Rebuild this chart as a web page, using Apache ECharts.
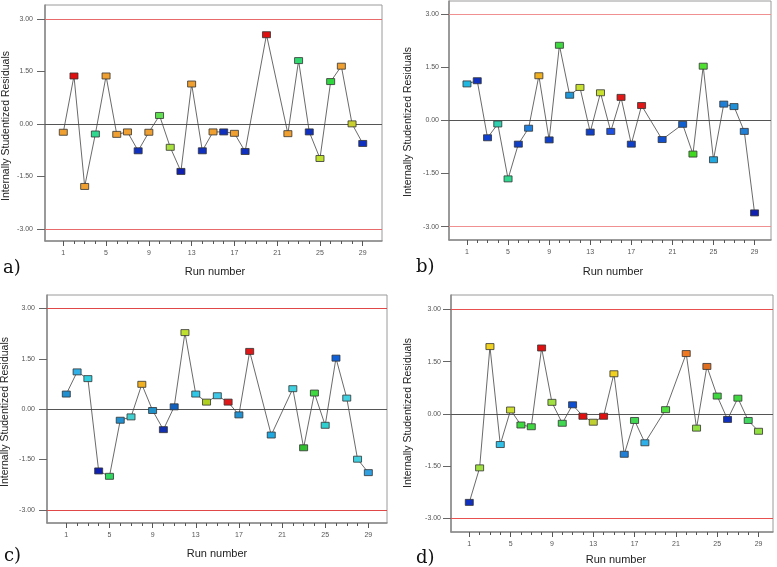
<!DOCTYPE html>
<html><head><meta charset="utf-8">
<script src="https://cdn.jsdelivr.net/npm/echarts/dist/echarts.min.js"></script>
<style>html,body{margin:0;padding:0;background:#fff}#c{width:777px;height:567px}</style>
</head><body><div id="c"></div>
<script>
// ---- data ----
const runs = [1,2,3,4,5,6,7,8,9,10,11,12,13,14,15,16,17,18,20,22,23,24,25,26,27,28,29];
const xTickLabels = [1,5,9,13,17,21,25,29];
const xMinorTicks = [1,2,3,4,5,6,7,8,9,10,11,12,13,14,15,16,17,18,19,20,21,22,23,24,25,26,27,28,29];
const yTickLabels = [-3, -1.5, 0, 1.5, 3];
const limitLines = [-3, 3];
const panelNames = ['a)', 'b)', 'c)', 'd)'];

const residA = [-0.24,1.37,-1.79,-0.29,1.37,-0.30,-0.23,-0.77,-0.24,0.24,-0.67,-1.36,1.14,-0.77,-0.23,-0.23,-0.27,-0.79,2.55,-0.28,1.81,-0.23,-0.99,1.21,1.65,0.00,-0.56];
const residB = [1.03,1.12,-0.49,-0.10,-1.65,-0.67,-0.22,1.26,-0.55,2.12,0.71,0.93,-0.33,0.78,-0.31,0.65,-0.67,0.42,-0.54,-0.11,-0.95,1.53,-1.11,0.46,0.39,-0.31,-2.61];
const residC = [0.45,1.11,0.91,-1.84,-2.00,-0.33,-0.23,0.74,-0.04,-0.61,0.07,2.28,0.45,0.21,0.40,0.21,-0.17,1.72,-0.77,0.61,-1.15,0.48,-0.48,1.52,0.33,-1.49,-1.89];
const residD = [-2.54,-1.55,1.93,-0.88,0.11,-0.32,-0.37,1.89,0.33,-0.27,0.26,-0.07,-0.24,-0.07,1.15,-1.16,-0.19,-0.83,0.12,1.73,-0.41,1.36,0.51,-0.16,0.45,-0.19,-0.50];

// ---- point colours (style) ----
const colA = ['#f0a030','#e01010','#f0a030','#30d890','#f0a030','#f0a030','#f0a030','#1030c0','#f0a030','#60e050','#a8e040','#1020b0','#f0a030','#1030c0','#f0a030','#1030c0','#f0a030','#1030c0','#e01010','#f0a030','#30d870','#1030c0','#c0e030','#30d840','#f0a030','#c8d030','#1030c0'];
const colB = ['#20b8e0','#1030c0','#1040d0','#30d0b0','#30d890','#1040c8','#2080e0','#f0b020','#1040c8','#40d840','#2098d8','#c8e030','#1040c8','#c8e030','#2050e0','#e01818','#1040c8','#e01818','#1050d0','#1060d0','#40d820','#50e030','#20a8e0','#2080d8','#2090d8','#2080d8','#1020b0'];
const colC = ['#2090d0','#30b0e8','#30d0e0','#1020b0','#30d860','#2090d0','#40d0d0','#f0b020','#2090c8','#1030b0','#1060c0','#c0e030','#30c8e8','#b0d020','#40c8e8','#e01818','#2090d0','#e01818','#20a8e0','#40d0e0','#30c030','#40d840','#30d0d0','#1060d8','#40d0e0','#40d0e0','#30a0e0'];
const colD = ['#1030c0','#a0e040','#f0d020','#30c0e8','#d0e030','#40d840','#40d840','#e01010','#a0e040','#40d850','#1050d0','#e01010','#c0d030','#e01010','#f0d020','#2080d8','#40d850','#30b0e8','#50e040','#f07820','#90e040','#e07020','#40d840','#1030c0','#40d840','#40d860','#90e040'];

// ---- layout ----
const panels = [
  {vals: residA, cols: colA, grid:{left:45, top:5, width:337, height:236}, x:[-0.71,30.8], y:[-3.35,3.40], lab:12, ref:'#e86a6a',
   runT:[215,272], yT:[6,126], pl:[3,268]},
  {vals: residB, cols: colB, grid:{left:449, top:1, width:322, height:239}, x:[-0.75,30.6], y:[-3.375,3.37], lab:10, ref:'#f09090',
   runT:[613,272], yT:[408,122], pl:[416,267]},
  {vals: residC, cols: colC, grid:{left:47, top:295, width:340, height:228}, x:[-0.79,30.73], y:[-3.39,3.40], lab:12, ref:'#e04848',
   runT:[217,554], yT:[5,412], pl:[4,556]},
  {vals: residD, cols: colD, grid:{left:451, top:295, width:322, height:237}, x:[-0.77,30.4], y:[-3.39,3.41], lab:10, ref:'#e85050',
   runT:[616,560], yT:[408,413], pl:[416,558]}
];

const grids = [], xAxes = [], yAxes = [], series = [], graphics = [];
const axisGray = '#8a8a8a';
panels.forEach((p, i) => {
  grids.push(Object.assign({show:true, borderColor:'#9a9a9a', borderWidth:1}, p.grid));
  xAxes.push({gridIndex:i, type:'value', min:p.x[0], max:p.x[1],
    axisLine:{show:true, onZero:false, lineStyle:{color:axisGray, width:1.5}},
    axisTick:{show:true, length:5, customValues:xTickLabels, lineStyle:{color:'#555'}},
    axisLabel:{show:true, customValues:xTickLabels, fontSize:7, color:'#555', margin:9, fontFamily:'Liberation Sans'},
    splitLine:{show:false}});
  yAxes.push({gridIndex:i, type:'value', min:p.y[0], max:p.y[1],
    axisLine:{show:true, onZero:false, lineStyle:{color:axisGray, width:1.5}},
    axisTick:{show:true, length:8, customValues:yTickLabels, lineStyle:{color:'#666'}},
    axisLabel:{show:true, customValues:yTickLabels, fontSize:7, color:'#555', margin:p.lab, fontFamily:'Liberation Sans',
      formatter: v => v.toFixed(2)},
    splitLine:{show:false}});
  const data = runs.map((r, k) => ({value:[r, p.vals[k]], itemStyle:{color:p.cols[k]}}));
  series.push({type:'line', xAxisIndex:i, yAxisIndex:i, data:data, symbol:'rect', symbolSize:[8,6],
    lineStyle:{color:'#444', width:0.8}, itemStyle:{borderColor:'#333', borderWidth:0.8},
    emphasis:{disabled:true}, z:5,
    markLine:{symbol:'none', label:{show:false}, lineStyle:{color:p.ref, width:1.2, type:'solid'},
      data:[{yAxis:limitLines[0]}, {yAxis:limitLines[1]}]}});
  series.push({type:'line', xAxisIndex:i, yAxisIndex:i, data:[], z:4,
    markLine:{symbol:'none', label:{show:false}, lineStyle:{color:'#555', width:1.2, type:'solid'},
      data:[{yAxis:0}]}});
  graphics.push({type:'text', x:p.runT[0], y:p.runT[1], style:{text:'Run number', font:'11px "Liberation Sans"', fill:'#222', textAlign:'center', textVerticalAlign:'middle'}});
  graphics.push({type:'text', x:p.yT[0], y:p.yT[1], rotation:Math.PI/2, style:{text:'Internally Studentized Residuals', font:'10.5px "Liberation Sans"', fill:'#222', textAlign:'center', textVerticalAlign:'middle'}});
  graphics.push({type:'text', x:p.pl[0], y:p.pl[1], style:{text:panelNames[i], font:'18px "DejaVu Serif"', fill:'#111', textAlign:'left', textVerticalAlign:'middle'}});
});
// overlay grids carrying the short per-run ticks
panels.forEach((p, i) => {
  const gi = grids.length;
  grids.push(Object.assign({show:false}, p.grid));
  xAxes.push({gridIndex:gi, type:'value', position:'bottom', min:p.x[0], max:p.x[1],
    axisLine:{show:true, onZero:false, lineStyle:{color:'rgba(0,0,0,0)'}},
    axisTick:{show:true, length:3, customValues:xMinorTicks, lineStyle:{color:'#555', width:1}},
    axisLabel:{show:false}, splitLine:{show:false}});
  yAxes.push({gridIndex:gi, type:'value', min:p.y[0], max:p.y[1], show:false});
});

const chart = echarts.init(document.getElementById('c'));
chart.setOption({animation:false, grid:grids, xAxis:xAxes, yAxis:yAxes, series:series, graphic:graphics});
</script>
</body></html>
